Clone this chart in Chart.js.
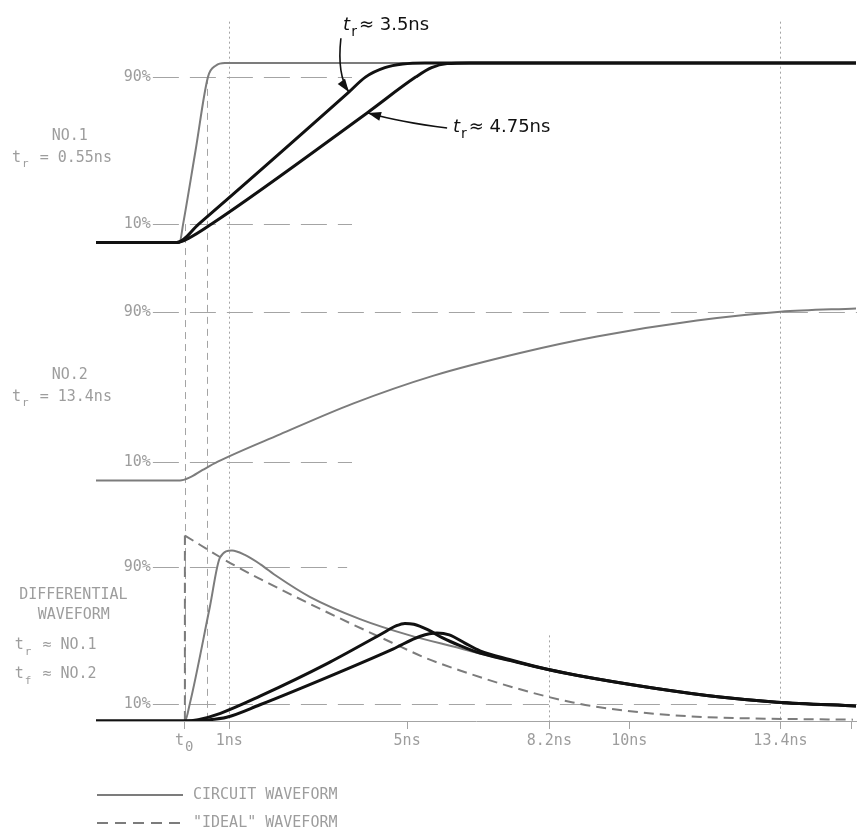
<!DOCTYPE html>
<html>
<head>
<meta charset="utf-8">
<script src="https://cdn.jsdelivr.net/npm/chart.js@4/dist/chart.umd.min.js"></script>
<style>
  html, body { margin: 0; padding: 0; background: #fff; }
  #wrap { position: relative; width: 857px; height: 832px; }
</style>
</head>
<body>
<div id="wrap"><canvas id="pulse"></canvas></div>
<script>
// time in ns (t0 = 0), levels in % of the step
const xTicks = [0, 1, 5, 8.2, 10, 13.4, 15];
const xTickLabels = ['', '1ns', '5ns', '8.2ns', '10ns', '13.4ns', ''];

// NO.1 step, t_r = 0.55ns
const no1T = [-2, -0.12, -0.04, 0.24, 0.52, 0.7, 0.9, 1.3, 15.1];
const no1V = [0, 0, 10, 50, 90, 96.2, 97.6, 97.6, 97.6];

// NO.1 after the network, t_r ~ 3.5ns and t_r ~ 4.75ns
const fastT = [-2, -0.18, 0.31, 3.67, 4.07, 4.5, 4.9, 5.4, 15.1];
const fastV = [0, 0, 10, 81.3, 90, 95, 97, 97.6, 97.6];
const slowT = [-2, -0.18, 0.1, 0.6, 4.1, 5.2, 5.55, 5.9, 6.4, 15.1];
const slowV = [0, 0, 2.5, 10, 70.4, 90, 95, 97.2, 97.6, 97.6];

// NO.2 step, t_r = 13.4ns
const no2T = [-2, -0.11, 0.1, 0.4, 0.74, 2.14, 3.78, 5.58, 7.54, 9.27, 11.52, 13.4, 15.12];
const no2V = [0, 0, 1.5, 5.6, 10, 24.6, 41.0, 55.8, 68.0, 76.8, 85.3, 90, 91.8];

// differential waveform (t_r = NO.1, t_f = NO.2)
const diffT = [-2, 0, 0.11, 0.56, 0.79, 1.06, 1.35, 1.7, 2.07, 2.81, 3.94, 5.06, 6.19, 6.64, 8.15, 8.84, 10.53, 12.04, 13.32, 15.1];
const diffV = [0, 0, 10, 66.4, 95.5, 99.6, 97.0, 91.5, 84.5, 72.5, 59.5, 50.0, 42.5, 39.4, 30.2, 26.6, 19.3, 14.0, 11.0, 8.8];

const diffFastT = [-2, 0, 0.3, 0.8, 1.69, 3.2, 4.4, 4.75, 4.95, 5.15, 5.45, 5.8, 6.19, 6.64, 7.3, 8.15, 8.84, 10.53, 12.04, 13.32, 15.1];
const diffFastV = [0, 0, 0.8, 4.5, 14.5, 33.5, 50.5, 55.5, 57.0, 56.5, 53.5, 48.5, 44.0, 39.6, 35.4, 30.2, 26.6, 19.3, 14.0, 11.0, 8.8];
const diffSlowT = [-2, 0, 0.5, 0.94, 1.69, 3.2, 4.68, 5.3, 5.67, 5.95, 6.3, 6.64, 7.3, 8.15, 8.84, 10.53, 12.04, 13.32, 15.1];
const diffSlowV = [0, 0, 0.6, 2.2, 9.5, 25.5, 42.0, 49.5, 51.4, 50.3, 45.5, 41.0, 35.9, 30.2, 26.6, 19.3, 14.0, 11.0, 8.8];

// "ideal" differential: instant edge at t0, then decay
const idealEdgeT = [0, 0];
const idealEdgeV = [0, 108.3];
const idealT = [0, 1.01, 1.69, 3.2, 4.68, 5.4, 6.19, 7.54, 8.73, 9.79, 11.3, 12.78, 15.03];
const idealV = [108.3, 92.4, 83, 63.5, 45.5, 37.0, 29.5, 18.5, 10.8, 6.4, 2.8, 1.5, 0.8];

const zip = (t, v) => t.map((x, i) => ({ x, y: v[i] }));

const GRAY = '#7c7c7c';
const INK = '#111';
const LABEL = '#9d9d9d';
const MONO = '"DejaVu Sans Mono", monospace';
const SANS = '"DejaVu Sans", sans-serif';

function line(label, axis, t, v, color, width, dash) {
  return {
    label, yAxisID: axis, data: zip(t, v),
    borderColor: color, borderWidth: width, borderDash: dash || [],
    pointRadius: 0, fill: false, cubicInterpolationMode: 'monotone'
  };
}

// helpers for the drawn notes
function subText(ctx, x, y, base, sub, rest, size, family, italic, subScale) {
  ctx.textAlign = 'left';
  ctx.textBaseline = 'middle';
  ctx.font = (italic ? 'italic ' : '') + size + 'px ' + family;
  ctx.fillText(base, x, y);
  let cx = x + ctx.measureText(base).width + 1;
  ctx.font = Math.round(size * (subScale || 0.75)) + 'px ' + family;
  ctx.fillText(sub, cx, y + size * 0.42);
  cx += ctx.measureText(sub).width + 2;
  ctx.font = size + 'px ' + family;
  ctx.fillText(rest, cx, y);
}

function arrow(ctx, a, c, b) {
  ctx.beginPath();
  ctx.moveTo(a.x, a.y);
  ctx.quadraticCurveTo(c.x, c.y, b.x, b.y);
  ctx.stroke();
  const ang = Math.atan2(b.y - c.y, b.x - c.x);
  const len = 13, half = 4.5;
  ctx.beginPath();
  ctx.moveTo(b.x, b.y);
  ctx.lineTo(b.x - len * Math.cos(ang) + half * Math.sin(ang), b.y - len * Math.sin(ang) - half * Math.cos(ang));
  ctx.lineTo(b.x - len * Math.cos(ang) - half * Math.sin(ang), b.y - len * Math.sin(ang) + half * Math.cos(ang));
  ctx.closePath();
  ctx.fill();
}

const levelGuides = [
  { axis: 'y1', level: 90, from: -0.72, to: 3.76 },
  { axis: 'y1', level: 10, from: -0.72, to: 3.76 },
  { axis: 'y2', level: 90, from: -0.72, to: 15.2 },
  { axis: 'y2', level: 10, from: -0.72, to: 3.76 },
  { axis: 'y3', level: 90, from: -0.72, to: 3.65 },
  { axis: 'y3', level: 10, from: -0.72, to: 15.2 }
];

const timeGuides = [
  { t: 0, topAxis: 'y1', top: 10, dash: [7, 5] },
  { t: 0.5, topAxis: 'y1', top: 90, dash: [7, 5] },
  { t: 1, topAxis: 'y1', top: 120, dash: [2, 3] },
  { t: 13.4, topAxis: 'y1', top: 120, dash: [2, 3] },
  { t: 8.2, topAxis: 'y3', top: 50, dash: [2, 3] }
];

const guides = {
  id: 'guides',
  beforeDatasetsDraw(chart) {
    const ctx = chart.ctx, xs = chart.scales.x;
    ctx.save();
    ctx.strokeStyle = '#a4a4a4';
    ctx.lineWidth = 1;
    timeGuides.forEach(g => {
      const x = Math.round(xs.getPixelForValue(g.t)) + 0.5;
      ctx.setLineDash(g.dash);
      ctx.beginPath();
      ctx.moveTo(x, chart.scales[g.topAxis].getPixelForValue(g.top));
      ctx.lineTo(x, chart.scales.y3.getPixelForValue(0));
      ctx.stroke();
    });
    levelGuides.forEach(g => {
      const y = Math.round(chart.scales[g.axis].getPixelForValue(g.level)) + 0.5;
      const x0 = xs.getPixelForValue(g.from);
      ctx.setLineDash([26, 11]);
      ctx.beginPath();
      ctx.moveTo(x0, y);
      ctx.lineTo(xs.getPixelForValue(g.to), y);
      ctx.stroke();
      ctx.fillStyle = LABEL;
      ctx.font = '15px ' + MONO;
      ctx.textAlign = 'right';
      ctx.textBaseline = 'middle';
      ctx.fillText(g.level + '%', x0 - 2, y);
    });
    ctx.restore();
  },
  afterDatasetsDraw(chart) {
    const ctx = chart.ctx, xs = chart.scales.x;
    const at = (axis, t, v) => ({ x: xs.getPixelForValue(t), y: chart.scales[axis].getPixelForValue(v) });
    ctx.save();

    // side captions
    ctx.fillStyle = LABEL;
    ctx.font = '15px ' + MONO;
    ctx.textAlign = 'center';
    ctx.textBaseline = 'middle';
    let p = at('y1', -2.59, 58);
    ctx.fillText('NO.1', p.x, p.y);
    p = at('y2', -2.59, 56.3);
    ctx.fillText('NO.2', p.x, p.y);
    p = at('y3', -2.51, 73.3);
    ctx.fillText('DIFFERENTIAL', p.x, p.y);
    p = at('y3', -2.5, 61.6);
    ctx.fillText('WAVEFORM', p.x, p.y);
    p = at('y1', -3.89, 46);
    subText(ctx, p.x, p.y, 't', 'r', ' = 0.55ns', 15, MONO, false);
    p = at('y2', -3.89, 44.5);
    subText(ctx, p.x, p.y, 't', 'r', ' = 13.4ns', 15, MONO, false);
    p = at('y3', -3.83, 44.1);
    subText(ctx, p.x, p.y, 't', 'r', ' ≈ NO.1', 15, MONO, false);
    p = at('y3', -3.83, 27.2);
    subText(ctx, p.x, p.y, 't', 'f', ' ≈ NO.2', 15, MONO, false);

    // t0 mark under the time axis
    subText(ctx, xs.getPixelForValue(0) - 10, chart.chartArea.bottom + 20, 't', '0', '', 15, MONO, false, 0.9);

    // rise-time notes with arrows
    ctx.fillStyle = INK;
    ctx.strokeStyle = INK;
    ctx.lineWidth = 1.6;
    p = at('y1', 3.56, 118.2);
    subText(ctx, p.x, p.y, 't', 'r', '≈ 3.5ns', 18, SANS, true);
    p = at('y1', 6.03, 62.8);
    subText(ctx, p.x, p.y, 't', 'r', '≈ 4.75ns', 18, SANS, true);
    arrow(ctx, at('y1', 3.51, 111), at('y1', 3.42, 91), at('y1', 3.69, 81.8));
    arrow(ctx, at('y1', 5.9, 62.2), at('y1', 4.84, 65.5), at('y1', 4.12, 70.4));
    ctx.restore();
  },
  afterDraw(chart) {
    // key below the time axis
    const ctx = chart.ctx, area = chart.chartArea;
    const solid = chart.data.datasets[6], dashed = chart.data.datasets[8];
    const rows = [
      { ds: solid, dash: [], text: 'CIRCUIT WAVEFORM', y: area.bottom + 74 },
      { ds: dashed, dash: [11, 7], text: '"IDEAL" WAVEFORM', y: area.bottom + 102 }
    ];
    ctx.save();
    rows.forEach(r => {
      ctx.strokeStyle = r.ds.borderColor;
      ctx.lineWidth = 2;
      ctx.setLineDash(r.dash);
      ctx.beginPath();
      ctx.moveTo(area.left + 1, r.y);
      ctx.lineTo(area.left + 87, r.y);
      ctx.stroke();
      ctx.fillStyle = LABEL;
      ctx.font = '15px ' + MONO;
      ctx.textAlign = 'left';
      ctx.textBaseline = 'middle';
      ctx.fillText(r.text, area.left + 97, r.y);
    });
    ctx.restore();
  }
};

new Chart(document.getElementById('pulse'), {
  type: 'line',
  data: {
    datasets: [
      line('t_r ≈ 3.5ns', 'y1', fastT, fastV, INK, 3),
      line('t_r ≈ 4.75ns', 'y1', slowT, slowV, INK, 3),
      line('differential, 3.5ns', 'y3', diffFastT, diffFastV, INK, 3),
      line('differential, 4.75ns', 'y3', diffSlowT, diffSlowV, INK, 3),
      line('NO.1', 'y1', no1T, no1V, GRAY, 2),
      line('NO.2', 'y2', no2T, no2V, GRAY, 2),
      line('CIRCUIT WAVEFORM', 'y3', diffT, diffV, GRAY, 2),
      line('ideal edge', 'y3', idealEdgeT, idealEdgeV, GRAY, 2, [10, 6]),
      line('"IDEAL" WAVEFORM', 'y3', idealT, idealV, GRAY, 2, [10, 6])
    ]
  },
  options: {
    responsive: true,
    maintainAspectRatio: false,
    animation: false,
    layout: { padding: { left: 96, right: 1, top: 11, bottom: 71 } },
    plugins: { legend: { display: false }, tooltip: { enabled: false } },
    scales: {
      x: {
        type: 'linear', min: -2, max: 15.1,
        afterBuildTicks: s => { s.ticks = xTicks.map(v => ({ value: v })); },
        afterFit: s => { s.height = 40; },
        ticks: {
          autoSkip: false, maxRotation: 0, padding: 3, color: LABEL,
          font: { family: 'DejaVu Sans Mono', size: 15 },
          callback: (v, i) => xTickLabels[i]
        },
        grid: { drawOnChartArea: false, tickLength: 8, color: '#a4a4a4' },
        border: { color: '#a4a4a4', dash: [2, 2] }
      },
      // three stacked panels, each in % of its own step
      y1: { type: 'linear', display: false, min: -260.1, max: 125.8 },
      y2: { type: 'linear', display: false, min: -128.3, max: 250.4 },
      y3: { type: 'linear', display: false, min: 0, max: 414.6 }
    }
  },
  plugins: [guides]
});
</script>
</body>
</html>
